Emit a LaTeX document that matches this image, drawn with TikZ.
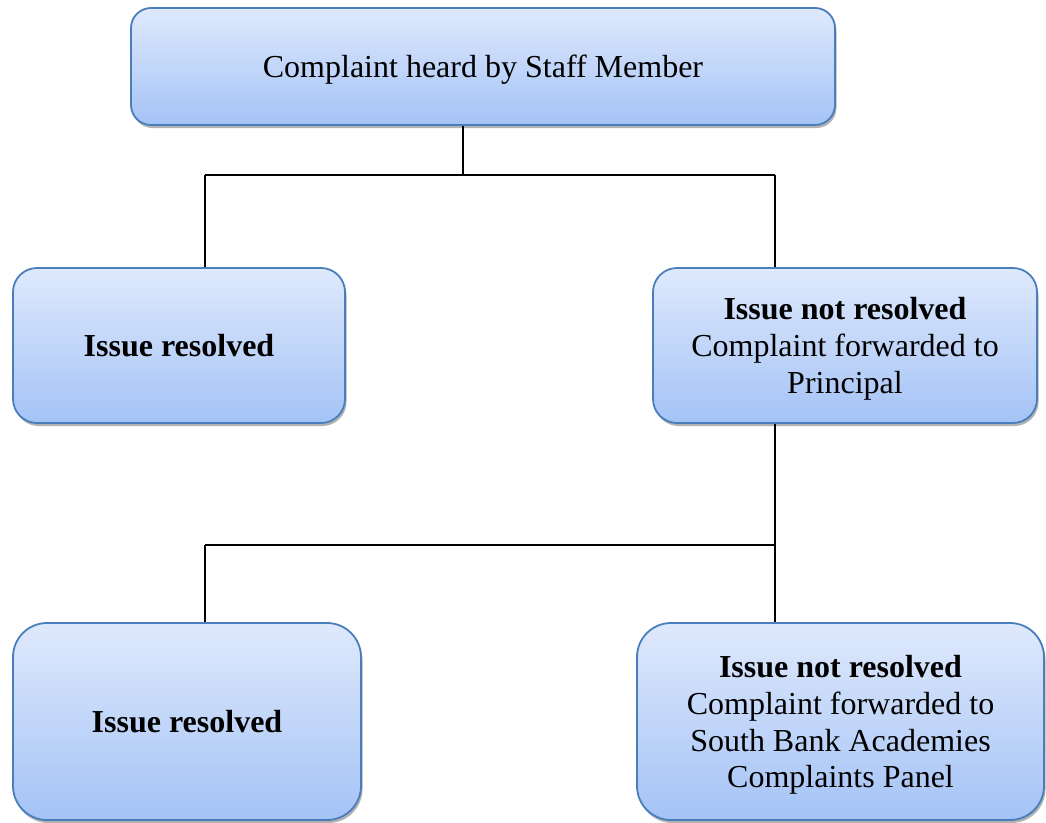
\documentclass[tikz,border=0pt]{standalone}
\usepackage{fontspec}
\setmainfont{Liberation Serif}
\usetikzlibrary{shadows}
\definecolor{boxtop}{RGB}{223,233,252}
\definecolor{boxbot}{RGB}{164,195,246}
\definecolor{boxline}{RGB}{74,126,187}
\tikzset{
  flowbox/.style={draw=boxline, line width=1.8pt, rounded corners=#1,
    top color=boxtop, bottom color=boxbot, align=center, inner sep=0pt,
    text depth=-3pt,
    font=\fontsize{32}{36.8}\selectfont,
    drop shadow={shadow xshift=1.5pt, shadow yshift=-3pt, fill=black, opacity=0.3}},
  flowbox/.default=22pt,
  link/.style={draw=black, line width=1.6pt}
}
\begin{document}
\begin{tikzpicture}[x=1pt,y=-1pt]
\useasboundingbox (0,0) rectangle (1046,822);
\node[flowbox=20pt, minimum width=704pt, minimum height=117pt] (top) at (483,66.5) {Complaint heard by Staff Member};
\node[flowbox=24pt, minimum width=332pt, minimum height=155pt] (midL) at (179,345.5) {\textbf{Issue resolved}};
\node[flowbox=24pt, minimum width=384pt, minimum height=155pt] (midR) at (845,345.5) {\textbf{Issue not resolved}\\Complaint forwarded to\\Principal};
\node[flowbox=34pt, minimum width=348pt, minimum height=197pt] (botL) at (187,721.5) {\textbf{Issue resolved}};
\node[flowbox=34pt, minimum width=407pt, minimum height=197pt] (botR) at (840.5,721.5) {\textbf{Issue not resolved}\\Complaint forwarded to\\South Bank Academies\\Complaints Panel};
\coordinate (j1) at (463,175);
\coordinate (j1L) at (205,175);
\coordinate (j1R) at (775,175);
\coordinate (j2L) at (205,545);
\coordinate (j2R) at (775,545);
\draw[link] (top.south -| j1) -- (j1);
\draw[link] (j1L) -- (j1R);
\draw[link] (j1L) -- (midL.north -| j1L);
\draw[link] (j1R) -- (midR.north -| j1R);
\draw[link, line width=1.4pt] (midR.south -| j2R) -- (botR.north -| j2R);
\draw[link, line width=1.4pt] (j2L) -- (j2R);
\draw[link, line width=1.4pt] (j2L) -- (botL.north -| j2L);
\end{tikzpicture}
\end{document}
